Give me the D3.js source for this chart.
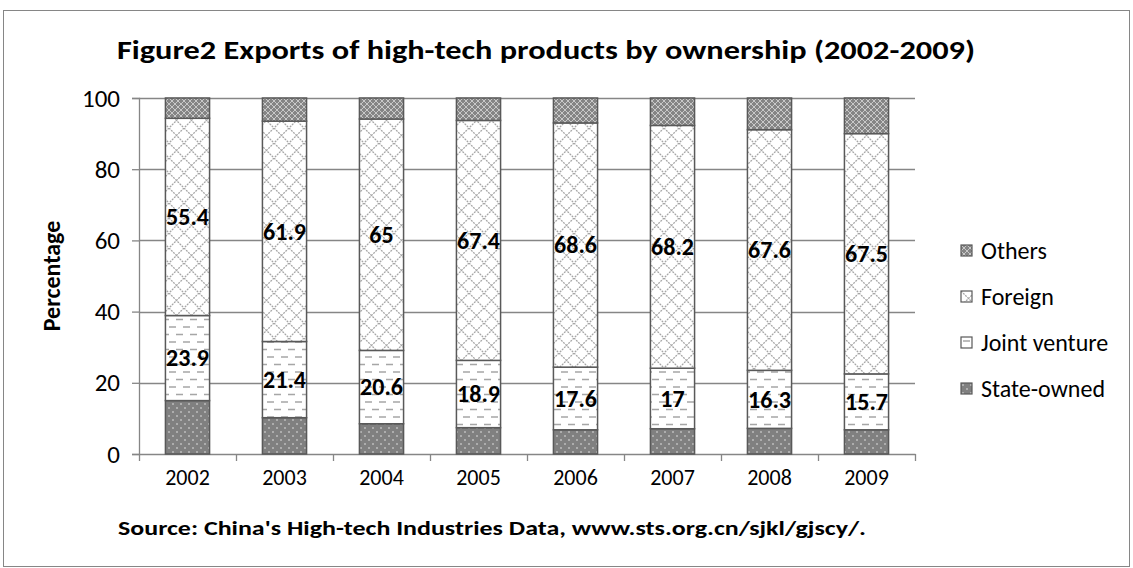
<!DOCTYPE html>
<meta charset="utf-8">
<script src="https://d3js.org/d3.v7.min.js"></script>
<style>
  body { margin: 0; background: #fff; }
  text { font-family: Carlito, Calibri, Lato, "Open Sans", sans-serif; }
</style>
<div id="my_dataviz"></div>
<script>

  // data
  var years = ["2002", "2003", "2004", "2005", "2006", "2007", "2008", "2009"];
  var stateOwned = [15.0, 10.2, 8.5, 7.4, 6.8, 7.1, 7.2, 6.8];
  var jointVenture = [23.9, 21.4, 20.6, 18.9, 17.6, 17, 16.3, 15.7];
  var foreign = [55.4, 61.9, 65, 67.4, 68.6, 68.2, 67.6, 67.5];
  var others = [5.7, 6.5, 5.9, 6.3, 7.0, 7.7, 8.9, 10.0];
  var seriesNames = ["State-owned", "Joint venture", "Foreign", "Others"];
  var yTicks = [0, 20, 40, 60, 80, 100];

  var data = years.map(function (y, i) {
    return { year: y, "State-owned": stateOwned[i], "Joint venture": jointVenture[i],
             "Foreign": foreign[i], "Others": others[i] };
  });

  var W = 1133, H = 568;
  var margin = { top: 98, right: 218, bottom: 114, left: 139 },
    width = 915 - margin.left,
    height = 454 - margin.top;

  var svgRoot = d3.select("#my_dataviz")
    .append("svg")
    .attr("width", W)
    .attr("height", H);

  // chart border
  svgRoot.append("rect")
    .attr("x", 3.5).attr("y", 10.5)
    .attr("width", 1126).attr("height", 556)
    .attr("fill", "#fff")
    .attr("stroke", "#868686").attr("stroke-width", 1);

  // patterns
  var defs = svgRoot.append("defs");

  var pOthers = defs.append("pattern").attr("id", "p-others")
    .attr("patternUnits", "userSpaceOnUse").attr("width", 6).attr("height", 6);
  pOthers.append("rect").attr("width", 6).attr("height", 6).attr("fill", "#858585");
  pOthers.append("path").attr("d", "M0,0 L6,6 M6,0 L0,6")
    .attr("stroke", "#c8c8c8").attr("stroke-width", 1);

  var pForeign = defs.append("pattern").attr("id", "p-foreign")
    .attr("patternUnits", "userSpaceOnUse").attr("width", 15).attr("height", 15);
  pForeign.append("rect").attr("width", 15).attr("height", 15).attr("fill", "#fff");
  pForeign.append("path").attr("d", "M0,0 L15,15 M15,0 L0,15")
    .attr("stroke", "#a6a6a6").attr("stroke-width", 1.3)
    .attr("stroke-dasharray", "2,1");

  var pJoint = defs.append("pattern").attr("id", "p-joint")
    .attr("patternUnits", "userSpaceOnUse").attr("width", 14).attr("height", 15);
  pJoint.append("rect").attr("width", 14).attr("height", 15).attr("fill", "#fff");
  pJoint.append("path").attr("d", "M2,4 L9,4 M9,11.5 L14,11.5 M0,11.5 L2,11.5")
    .attr("stroke", "#a6a6a6").attr("stroke-width", 1.5);

  var pState = defs.append("pattern").attr("id", "p-state")
    .attr("patternUnits", "userSpaceOnUse").attr("width", 8).attr("height", 8);
  pState.append("rect").attr("width", 8).attr("height", 8).attr("fill", "#808080");
  pState.append("circle").attr("cx", 2).attr("cy", 2).attr("r", 0.8).attr("fill", "#e6e6e6");
  pState.append("circle").attr("cx", 6).attr("cy", 6).attr("r", 0.8).attr("fill", "#e6e6e6");

  var fills = { "State-owned": "url(#p-state)", "Joint venture": "url(#p-joint)",
                "Foreign": "url(#p-foreign)", "Others": "url(#p-others)" };

  var svg = svgRoot.append("g")
    .attr("transform", "translate(" + margin.left + "," + margin.top + ")");

  var x = d3.scaleBand()
    .domain(years)
    .range([0, width])
    .paddingInner(0.545)
    .paddingOuter(0.2725);

  var y = d3.scaleLinear()
    .domain([0, 100])
    .range([height, 0]);

  // gridlines
  svg.append("g")
    .selectAll("line")
    .data(yTicks.filter(function (d) { return d > 0; }))
    .enter().append("line")
    .attr("x1", 0).attr("x2", width)
    .attr("y1", function (d) { return Math.round(y(d)) + 0.5; })
    .attr("y2", function (d) { return Math.round(y(d)) + 0.5; })
    .attr("stroke", "#868686").attr("stroke-width", 1.3);

  // Y axis
  var yAxis = svg.append("g")
    .call(d3.axisLeft(y).tickValues(yTicks).tickSize(7).tickPadding(12));
  yAxis.select(".domain").attr("stroke", "#868686").attr("stroke-width", 1.3);
  yAxis.selectAll(".tick line").attr("stroke", "#868686").attr("stroke-width", 1.3);
  yAxis.selectAll("text").attr("font-size", 25).attr("fill", "#000")
    .style("font-family", "Carlito, Calibri, Lato, sans-serif");

  // X axis
  var xAxis = svg.append("g")
    .attr("transform", "translate(0," + height + ")")
    .call(d3.axisBottom(x).tickSize(0).tickPadding(15));
  xAxis.select(".domain").attr("stroke", "#868686").attr("stroke-width", 1.3);
  xAxis.selectAll("text").attr("font-size", 22).attr("fill", "#000")
    .style("font-family", "Carlito, Calibri, Lato, sans-serif");
  // category boundary ticks
  xAxis.append("g").selectAll("line")
    .data(d3.range(years.length + 1))
    .enter().append("line")
    .attr("x1", function (i) { return Math.round(i * x.step()) + 0.5; })
    .attr("x2", function (i) { return Math.round(i * x.step()) + 0.5; })
    .attr("y1", 0).attr("y2", 7)
    .attr("stroke", "#868686").attr("stroke-width", 1.3);

  // stacked bars
  var stacked = d3.stack().keys(seriesNames)(data);

  var layers = svg.append("g")
    .selectAll("g")
    .data(stacked)
    .enter().append("g")
    .attr("fill", function (d) { return fills[d.key]; });

  layers.selectAll("rect")
    .data(function (d) { return d; })
    .enter().append("rect")
    .attr("x", function (d) { return x(d.data.year); })
    .attr("y", function (d) { return y(d[1]); })
    .attr("width", x.bandwidth())
    .attr("height", function (d) { return y(d[0]) - y(d[1]); })
    .attr("stroke", "#595959")
    .attr("stroke-width", 1.5);

  // value labels for joint venture and foreign
  stacked.filter(function (s) { return s.key === "Joint venture" || s.key === "Foreign"; })
    .forEach(function (s) {
      svg.append("g").selectAll("text")
        .data(s)
        .enter().append("text")
        .attr("x", function (d) { return x(d.data.year) + x.bandwidth() / 2; })
        .attr("y", function (d) { return y((d[0] + d[1]) / 2); })
        .attr("dy", "0.35em")
        .attr("text-anchor", "middle")
        .attr("font-size", 24)
        .attr("font-weight", "bold")
        .text(function (d) { return d.data[s.key]; });
    });

  // y-axis title
  svgRoot.append("text")
    .attr("transform", "translate(60,276) rotate(-90)")
    .attr("text-anchor", "middle")
    .attr("font-size", 24)
    .attr("font-weight", "bold")
    .text("Percentage");

  // title
  svgRoot.append("text")
    .attr("x", 546).attr("y", 59)
    .attr("text-anchor", "middle")
    .attr("font-size", 27)
    .attr("font-weight", "bold")
    .attr("textLength", 858)
    .attr("lengthAdjust", "spacingAndGlyphs")
    .text("Figure2 Exports of high-tech products by ownership (2002-2009)");

  // source
  svgRoot.append("text")
    .attr("x", 492).attr("y", 535)
    .attr("text-anchor", "middle")
    .attr("font-size", 21)
    .attr("font-weight", "bold")
    .attr("textLength", 748)
    .attr("lengthAdjust", "spacingAndGlyphs")
    .text("Source: China's High-tech Industries Data, www.sts.org.cn/sjkl/gjscy/.");

  // legend
  var legendOrder = ["Others", "Foreign", "Joint venture", "State-owned"];
  var legend = svgRoot.append("g").selectAll("g")
    .data(legendOrder)
    .enter().append("g")
    .attr("transform", function (d, i) { return "translate(961," + (245 + i * 46) + ")"; });
  legend.append("rect")
    .attr("width", 11).attr("height", 11)
    .attr("fill", function (d) { return fills[d]; })
    .attr("stroke", "#595959").attr("stroke-width", 1.2);
  legend.append("text")
    .attr("x", 20).attr("y", 6)
    .attr("dy", "0.35em")
    .attr("font-size", 24)
    .text(function (d) { return d; });

</script>
